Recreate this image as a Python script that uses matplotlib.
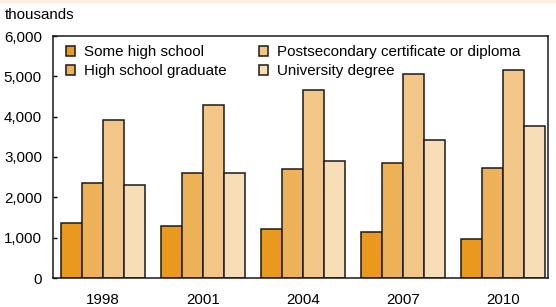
import numpy as np
import matplotlib.pyplot as plt
from matplotlib.patches import Rectangle

plt.rcParams['font.family'] = ['Liberation Sans', 'DejaVu Sans']

years = ['1998', '2001', '2004', '2007', '2010']
some_high_school = [1375, 1300, 1210, 1150, 970]
high_school_grad = [2360, 2610, 2695, 2850, 2730]
postsecondary = [3910, 4280, 4650, 5050, 5160]
university = [2310, 2610, 2910, 3430, 3760]

series = [
    ('Some high school', some_high_school, '#E8991E'),
    ('High school graduate', high_school_grad, '#EDB158'),
    ('Postsecondary certificate or diploma', postsecondary, '#F2C686'),
    ('University degree', university, '#F7DEB6'),
]

fs = 10.9

fig = plt.figure(figsize=(5.56, 3.07), dpi=100)
# thin beige band along the top edge
fig.patches.append(Rectangle((0, 0.993), 1, 0.007, transform=fig.transFigure,
                             color='#FCF1E1', zorder=0))
ax = fig.add_axes([53/556, 29/307, 495/556, 242/307])

x = np.arange(len(years))
w = 0.21
for i, (name, vals, col) in enumerate(series):
    ax.bar(x + (i - 1.5)*w, vals, w, color=col, edgecolor='#1a1a1a',
           linewidth=1.1, label=name, zorder=2)

ax.set_xlim(-0.5, 4.45)
ax.set_ylim(0, 6000)
ax.set_yticks(range(0, 6001, 1000))
ax.set_yticklabels(['{:,}'.format(v) for v in range(0, 6001, 1000)])
ax.set_xticks(x)
ax.set_xticklabels(years)
ax.tick_params(axis='y', direction='in', length=3, width=1, labelsize=fs, pad=8)
ax.tick_params(axis='x', length=0, labelsize=fs, pad=11)
for s in ax.spines.values():
    s.set_linewidth(1.1)
    s.set_color('#1a1a1a')

fig.text(5/556, 1 - 15/307, 'thousands', fontsize=fs, va='center', ha='left')

ax.legend(ncol=2, loc='upper left', bbox_to_anchor=(0.005, 1.005), frameon=False,
          fontsize=fs, handlelength=0.6, handleheight=0.6, handletextpad=0.6,
          columnspacing=2.1, labelspacing=0.32, borderaxespad=0.3)

fig.savefig('out.png', dpi=100)
